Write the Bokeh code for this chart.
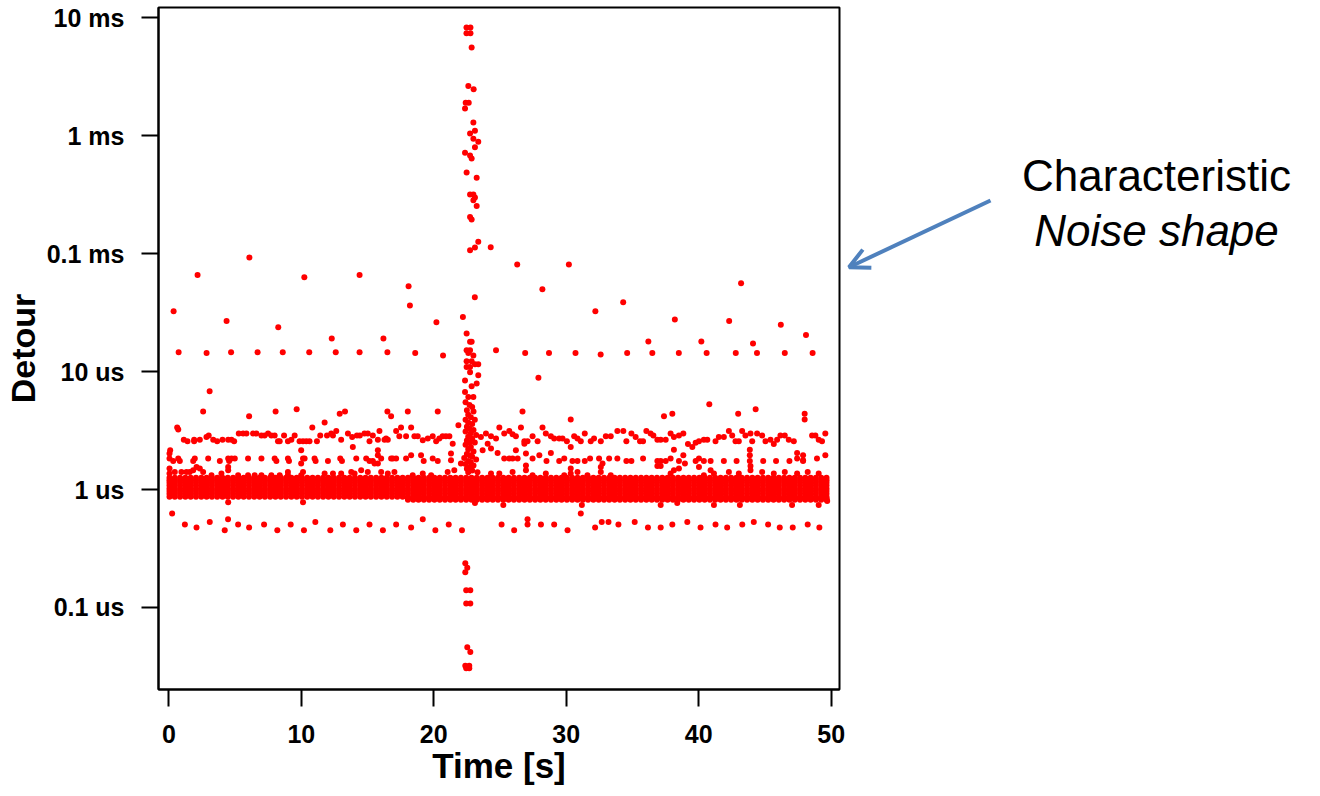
from bokeh.plotting import figure
from bokeh.layouts import row
from bokeh.models import Range1d, FixedTicker, Label, Arrow, OpenHead
from bokeh.embed import file_html
from bokeh.resources import INLINE

RED = "#FF0000"
BLUE = "#4F81BD"
FONT = "Liberation Sans"

# ---------------- data (time in s, detour in microseconds) ----------------
x_ticks = [0, 10, 20, 30, 40, 50]
y_ticks = [0.1, 1, 10, 100, 1000, 10000]
y_tick_labels = ["0.1 us", "1 us", "10 us", "0.1 ms", "1 ms", "10 ms"]

# dense band around 1 us (sampled across the run)
band_t = [0.05, 0.45, 0.85, 1.25, 1.65, 2.05, 2.45, 2.85, 3.25, 3.65,
          4.05, 4.45, 4.85, 5.25, 5.65, 6.05, 6.45, 6.85, 7.25, 7.65,
          8.05, 8.45, 8.85, 9.25, 9.65, 10.05, 10.45, 10.85, 11.25, 11.65,
          12.05, 12.45, 12.85, 13.25, 13.65, 14.05, 14.45, 14.85, 15.25, 15.65,
          16.05, 16.45, 16.85, 17.25, 17.65, 18.05, 18.45, 18.85, 19.25, 19.65,
          20.05, 20.45, 20.85, 21.25, 21.65, 22.05, 22.45, 22.85, 23.25, 23.65,
          24.05, 24.45, 24.85, 25.25, 25.65, 26.05, 26.45, 26.85, 27.25, 27.65,
          28.05, 28.45, 28.85, 29.25, 29.65, 30.05, 30.45, 30.85, 31.25, 31.65,
          32.05, 32.45, 32.85, 33.25, 33.65, 34.05, 34.45, 34.85, 35.25, 35.65,
          36.05, 36.45, 36.85, 37.25, 37.65, 38.05, 38.45, 38.85, 39.25, 39.65,
          40.05, 40.45, 40.85, 41.25, 41.65, 42.05, 42.45, 42.85, 43.25, 43.65,
          44.05, 44.45, 44.85, 45.25, 45.65, 46.05, 46.45, 46.85, 47.25, 47.65,
          48.05, 48.45, 48.85, 49.25, 49.65]
band_levels = [0.87, 0.92, 0.97, 1.02, 1.08, 1.14, 1.2, 1.26]
band_late_levels = [0.82, 0.845]
band_late_start = 18.0

# scattered points just under the band
edge_t = [4.48, 10.13, 23.11, 25.25, 31.18, 37.13, 38.38, 41.15, 43.11, 47.05, 49.06, 49.7]
edge_v = [0.78, 0.78, 0.77, 0.74, 0.74, 0.74, 0.77, 0.74, 0.74, 0.74, 0.74, 0.8]

# row around 0.5 us
r05_t = [0.25, 1.21, 2.09, 3.09, 4.22, 4.47, 5.23, 6.06, 7.19, 8.19,
         9.2, 10.2, 11.06, 12.19, 13.14, 14.15, 15.15, 16.16, 17.16, 18.29,
         19.17, 20.12, 21.13, 22.13, 25.12, 26.07, 27.08, 27.08, 28.09, 29.09,
         30.1, 31.1, 32.18, 32.68, 33.19, 33.94, 35.17, 36.17, 37.13, 38.01,
         39.14, 40.14, 41.27, 42.15, 43.29, 44.16, 45.24, 46.12, 47.1, 48.23,
         49.11]
r05_v = [0.626, 0.505, 0.476, 0.531, 0.452, 0.56, 0.505, 0.476, 0.505, 0.452,
         0.505, 0.452, 0.531, 0.452, 0.505, 0.452, 0.505, 0.452, 0.505, 0.476,
         0.56, 0.452, 0.505, 0.452, 0.505, 0.452, 0.56, 0.505, 0.505, 0.505,
         0.452, 0.626, 0.476, 0.531, 0.531, 0.505, 0.531, 0.476, 0.476, 0.505,
         0.531, 0.476, 0.505, 0.476, 0.505, 0.531, 0.505, 0.476, 0.476, 0.505,
         0.476]

# row around 1.4 us
r14_t = [0.05, 0.05, 0.45, 0.95, 1.33, 1.58, 1.84, 2.09, 2.34, 2.59,
         3.22, 3.97, 4.48, 4.48, 5.23, 5.98, 6.48, 6.99, 7.74, 8.37,
         8.99, 8.99, 10.13, 9.99, 11.76, 12.39, 13.01, 13.77, 14.02, 14.52,
         15.02, 16.03, 16.53, 17.03, 18.41, 19.17, 19.8, 21.05, 21.55, 24.32,
         24.95, 25.95, 26.96, 26.96, 27.46, 28.46, 29.85, 30.34, 30.34, 30.85,
         31.6, 32.61, 32.61, 33.36, 36.88, 37.88, 38.13, 38.51, 40.02, 40.39,
         40.9, 41.15, 42.28, 43.03, 43.91, 44.79, 45.67, 46.5, 47.43, 48.23,
         49.06]
r14_v = [1.51, 1.37, 1.41, 1.41, 1.41, 1.41, 1.46, 1.55, 1.51, 1.41,
         1.32, 1.37, 1.55, 1.46, 1.32, 1.32, 1.32, 1.32, 1.32, 1.32,
         1.41, 1.32, 1.41, 1.32, 1.37, 1.37, 1.37, 1.41, 1.37, 1.46,
         1.41, 1.41, 1.37, 1.41, 1.32, 1.37, 1.32, 1.41, 1.46, 1.37,
         1.37, 1.41, 1.6, 1.46, 1.32, 1.37, 1.32, 1.51, 1.37, 1.41,
         1.32, 1.55, 1.41, 1.32, 1.58, 1.37, 1.46, 1.51, 1.55, 1.32,
         1.46, 1.37, 1.41, 1.37, 1.46, 1.41, 1.37, 1.41, 1.37, 1.41,
         1.37]

# row around 1.8 us
r18_t = [0.1, 0.05, 0.05, 0.33, 0.71, 0.83, 1.84, 1.96, 2.97, 3.85,
         4.48, 4.55, 4.73, 4.98, 5.98, 6.99, 7.99, 8.12, 8.99, 9.07,
         9.99, 10.13, 10.25, 9.99, 11.0, 11.08, 12.01, 12.94, 13.07, 14.15,
         14.9, 15.15, 15.4, 15.78, 15.78, 15.53, 16.03, 15.78, 16.78,
         16.91, 17.16, 17.91, 18.29, 19.04, 19.24, 19.92, 20.3, 21.3, 21.3,
         22.05, 23.69, 24.07, 24.32, 24.82, 25.32, 25.7, 25.95, 26.2, 26.33,
         26.84, 26.96, 27.46, 27.97, 28.51, 28.84, 29.47, 29.85, 30.47, 30.85,
         31.4, 31.8, 32.48, 32.74, 33.24, 33.86,
         34.54, 34.92, 35.8, 36.88, 37.13, 37.13, 37.51, 37.88, 38.13, 38.51,
         38.84, 38.96, 39.77, 40.02, 40.39, 40.9, 41.9, 42.86, 43.86, 43.86,
         43.86, 43.91, 44.87, 45.84, 46.85, 47.43, 47.88, 48.93, 49.56]
r18_v = [2.15, 2.02, 1.83, 1.75, 1.83, 1.75, 1.75, 1.83, 1.83, 1.75,
         1.83, 1.75, 1.83, 1.83, 1.83, 1.83, 1.83, 1.75, 1.83, 1.75,
         2.15, 1.83, 1.83, 1.66, 1.83, 1.75, 1.75, 1.83, 1.75, 1.83,
         1.83, 1.75, 1.75, 2.15, 1.95, 1.66, 1.83, 1.66, 1.83,
         1.83, 1.83, 1.83, 1.95, 1.95, 1.75, 1.83, 1.75, 2.02, 1.77,
         1.66, 2.15, 2.45, 2.23, 2.04, 1.83, 1.83, 1.83, 2.15, 1.83,
         2.45, 2.02, 1.83, 1.95, 1.75, 2.04, 1.75, 1.83, 1.75, 1.75,
         1.75, 1.83, 1.83, 1.66, 1.83, 1.83,
         1.75, 1.75, 1.83, 1.75, 1.75, 1.58, 1.75, 1.83, 2.18, 1.75,
         1.95, 1.66, 1.75, 1.83, 1.75, 1.75, 1.75, 1.75, 1.75, 1.95,
         2.18, 1.58, 1.75, 1.75, 1.75, 1.83, 1.75, 1.83, 1.95]

# row around 2.5-3.5 us
r3_t = [0.63, 0.71, 1.13, 1.41, 1.91, 1.91, 2.34, 2.84, 3.01, 3.35,
        3.65, 4.05, 4.48, 4.73, 4.93, 5.28, 5.61, 5.86, 6.36, 6.61,
        6.99, 7.23, 7.49, 7.74, 7.99, 8.24, 8.37, 8.7, 8.99, 9.25,
        9.5, 9.87, 10.13, 10.38, 10.62, 10.83, 11.18, 11.43, 11.76, 11.94,
        12.26, 12.39, 12.64, 13.01, 13.52, 13.84, 13.89, 14.2, 14.42, 14.77,
        15.02, 15.15, 15.4, 15.9, 15.78, 16.28, 16.53,
        16.4, 17.16, 17.53, 17.4, 17.91, 18.29, 18.54, 18.79, 19.17, 19.55,
        19.92, 20.18, 20.42, 20.67, 20.92, 21.18, 21.43, 23.56, 23.94, 24.32,
        24.7, 24.95, 25.32, 25.7, 25.95, 26.2, 26.58, 26.84, 27.08, 27.46,
        27.84, 28.21, 28.46, 28.84, 29.09, 29.47, 29.72, 30.05, 30.34, 30.6,
        30.85, 31.1, 31.4, 31.85, 32.1, 32.61, 32.99, 33.36, 33.86,
        34.31, 34.54, 34.92, 35.24, 35.57, 35.8, 36.05, 36.37, 36.58, 36.88,
        37.13, 37.51, 37.88, 38.13, 38.51, 38.84, 39.19, 39.52, 39.77, 40.02,
        40.39, 40.65, 41.27, 41.52, 41.9, 42.28, 42.53, 42.78, 43.03, 43.28,
        43.53, 43.91, 44.04, 44.41, 44.79, 45.04, 45.42, 45.67, 45.92, 46.17,
        46.5, 46.8, 47.18, 47.43, 47.88, 47.88, 48.56, 48.81, 49.06, 49.31,
        49.56]
r3_v = [3.36, 3.23, 2.65, 2.57, 2.57, 2.65, 2.65, 2.79, 2.87, 2.65,
        2.57, 2.65, 2.65, 2.65, 2.57, 2.98, 2.98, 2.98, 2.98, 2.98,
        2.87, 2.87, 2.98, 2.87, 2.87, 2.57, 2.57, 2.87, 2.57, 2.65,
        2.87, 2.57, 2.57, 2.57, 2.57, 3.36, 2.57, 2.87, 3.7, 2.87,
        2.98, 2.87, 3.14, 2.65, 2.98, 2.79, 2.3, 2.87, 2.87, 2.98,
        2.98, 2.57, 2.87, 3.14, 2.65, 2.65, 2.65,
        2.71, 3.14, 3.36, 2.83, 2.83, 3.36, 2.83, 2.83, 2.62, 2.71,
        2.83, 2.57, 2.71, 2.83, 2.83, 2.83, 2.45, 2.79, 2.98, 2.83,
        2.71, 3.36, 2.98, 3.14, 2.94, 2.83, 3.36, 2.57, 2.57, 2.83,
        2.57, 3.36, 2.98, 2.83, 2.71, 2.71, 2.71, 2.57, 2.3, 2.83,
        2.71, 2.57, 2.98, 2.57, 2.71, 2.57, 2.83, 2.83, 3.14,
        3.14, 2.57, 2.98, 2.79, 2.57, 2.57, 3.14, 2.98, 2.87, 2.65,
        2.65, 2.65, 2.98, 2.79, 2.87, 2.98, 2.43, 2.3, 2.49, 2.57,
        2.65, 2.65, 2.57, 2.79, 2.79, 3.14, 2.87, 2.57, 2.57, 3.14,
        2.87, 2.98, 2.57, 2.98, 2.87, 2.57, 2.65, 2.43, 2.65, 2.87,
        2.87, 2.65, 2.57, 2.04, 1.95, 1.77, 2.87, 2.87, 2.65, 2.57,
        2.98]

# sparse points above 3.5 us
up_t = [0.36, 0.74, 2.17, 2.85, 3.08, 2.59, 4.36, 4.7, 6.08, 6.7,
        6.06, 8.26, 8.6, 10.23, 10.6, 9.65, 8.06, 12.3, 12.6, 12.9,
        13.3, 14.4, 14.4, 16.2, 16.5, 16.5, 16.78, 18.04, 18.1, 18.2,
        18.6, 20.2, 20.3, 20.7, 21.86, 24.3, 24.7, 26.3, 26.7, 26.9,
        27.9, 28.2, 28.7, 30.2, 30.34, 30.7, 32.2, 32.6, 34.3, 34.6,
        36.2, 36.5, 37.38, 38.01, 38.2, 38.5, 40.2, 40.6, 40.8, 42.3,
        42.8, 42.98, 43.2, 44.1, 44.4, 44.3, 46.2, 46.5, 48.1, 48.6,
        48.0, 48.0]
up_v = [32.5, 14.6, 65.9, 14.4, 6.8, 4.6, 26.8, 14.6, 93, 14.6,
        4.19, 23.8, 14.6, 63, 14.6, 4.8, 4.6, 19.1, 14.6, 4.4,
        4.6, 66, 14.6, 19.1, 14.6, 4.6, 4.19, 4.6, 53, 36.3,
        14.4, 26.2, 4.6, 13.7, 3.51, 113.5, 15.2, 81, 4.6, 14.4,
        8.85, 50, 14.4, 81, 3.92, 14.4, 32.5, 14, 38.7, 14.4,
        18, 14.4, 4.18, 4.4, 27.7, 14.4, 18, 14.4, 5.3, 26.8,
        14.4, 4.4, 56, 17.3, 14.4, 4.8, 25, 14.4, 20.4, 14.4,
        4.4, 3.92]

# the big detour spike near 22.7 s
spike_t = [22.47, 22.77, 22.47, 22.77, 22.86, 22.61, 23.01, 22.41, 22.64, 22.36,
           22.99, 23.11, 22.74, 22.99, 23.36, 23.11, 22.36, 22.74, 22.86, 22.48,
           23.24, 22.74, 22.99, 23.11, 22.99, 23.24, 22.74, 22.86, 23.36, 23.11,
           22.74, 23.1, 22.2, 22.48, 22.74, 22.86, 22.48, 22.74, 22.61, 22.99,
           22.48, 22.86, 23.11, 23.36, 22.48, 22.74, 22.74, 23.36, 22.36, 23.24,
           22.86, 22.36, 22.61, 22.99]
spike_v = [8290, 8290, 7380, 7380, 5610, 2636, 2484, 1901, 1901, 1706,
           1298, 1101, 1047, 942, 888, 800, 716, 681, 642, 488,
           440, 318, 318, 300, 284, 254, 205, 195, 126, 113,
           107, 42.8, 29.1, 21, 17.9, 17.9, 15.2, 15.2, 14.4, 13.7,
           12.25, 12.25, 11.56, 11.56, 10.96, 10.96, 9.88, 9.31, 8.4, 7.93,
           7.52, 6.73, 6.1, 6.1]
cluster_t = [22.4, 22.7, 22.9, 22.5, 23.0, 22.6, 22.8, 22.4, 23.1, 22.6,
             22.9, 22.5, 22.7, 23.0, 22.4, 22.8, 23.2, 22.6, 22.9, 22.5,
             22.7, 23.1, 22.4, 22.8, 22.6, 23.0, 22.5, 22.7, 22.9, 22.3,
             23.2, 22.6, 22.8, 22.4, 23.0, 22.7, 22.5, 22.9, 22.6, 23.3]
cluster_v = [5.5, 5.2, 5.0, 4.7, 4.6, 4.3, 4.1, 3.9, 3.9, 3.7,
             3.6, 3.4, 3.3, 3.2, 3.1, 3.0, 2.9, 2.8, 2.7, 2.6,
             2.5, 2.5, 2.4, 2.3, 2.2, 2.1, 2.0, 1.95, 1.9, 1.85,
             1.8, 1.75, 1.7, 1.65, 1.6, 1.55, 1.5, 1.45, 1.4, 1.4]
low_t = [22.38, 22.53, 22.38, 22.45, 22.76, 22.45, 22.76, 22.53, 22.76, 22.38,
         22.68, 22.45, 22.68]
low_v = [0.237, 0.217, 0.199, 0.14, 0.14, 0.108, 0.108, 0.046, 0.042, 0.032,
         0.032, 0.0306, 0.0306]

# annotation texts
note_line1 = "Characteristic"
note_line2 = "Noise shape"

# ---------------- assemble ----------------
xs, ys = [], []
for lv in band_levels:
    for t in band_t:
        xs.append(t); ys.append(lv)
for lv in band_late_levels:
    for t in band_t:
        if t >= band_late_start:
            xs.append(t); ys.append(lv)
for tl, vl in [(edge_t, edge_v), (r05_t, r05_v), (r14_t, r14_v), (r18_t, r18_v),
               (r3_t, r3_v), (up_t, up_v), (spike_t, spike_v),
               (cluster_t, cluster_v), (low_t, low_v)]:
    for t, v in zip(tl, vl):
        xs.append(t); ys.append(v)

p = figure(width=846, height=796,
           x_range=Range1d(-0.78, 50.63), y_range=Range1d(0.02016, 12230),
           y_axis_type="log", output_backend="svg", toolbar_location=None,
           min_border_left=157, min_border_right=7,
           min_border_top=7, min_border_bottom=107)
p.background_fill_color = "white"
p.border_fill_color = "white"
p.outline_line_color = "black"
p.outline_line_width = 2
p.grid.visible = False

p.scatter(xs, ys, size=6, fill_color=RED, line_color=None)

p.xaxis.ticker = FixedTicker(ticks=x_ticks)
p.yaxis.ticker = FixedTicker(ticks=y_ticks)
p.yaxis.major_label_overrides = {k: lab for k, lab in zip(y_ticks, y_tick_labels)}

for ax in (p.xaxis[0], p.yaxis[0]):
    ax.axis_line_color = "black"
    ax.axis_line_width = 2
    ax.major_tick_line_color = "black"
    ax.major_tick_line_width = 2
    ax.major_tick_out = 17
    ax.major_tick_in = 0
    ax.minor_tick_line_color = None
    ax.major_label_text_font = FONT
    ax.major_label_text_font_size = "25px"
    ax.major_label_text_font_style = "bold"
    ax.major_label_text_color = "black"
    ax.axis_label_text_font = FONT
    ax.axis_label_text_font_style = "bold"
    ax.axis_label_text_color = "black"

p.xaxis.axis_label = "Time [s]"
p.xaxis.axis_label_text_font_size = "35px"
p.xaxis.major_label_standoff = 18
p.xaxis.axis_label_standoff = 0
p.yaxis.axis_label = "Detour"
p.yaxis.axis_label_text_font_size = "34px"
p.yaxis.major_label_standoff = 17
p.yaxis.axis_label_standoff = 2

# side panel for the annotation: its frame is aligned with the plot frame
# (screen rows 7..689), so the y range maps directly to window pixels
q = figure(width=474, height=796, x_range=Range1d(846, 1320), y_range=Range1d(689, 7),
           output_backend="svg", toolbar_location=None,
           x_axis_location=None, y_axis_location=None,
           min_border_left=0, min_border_right=0, min_border_top=7, min_border_bottom=107)
q.background_fill_color = "white"
q.border_fill_color = "white"
q.outline_line_color = None
q.grid.visible = False

q.add_layout(Label(x=1156, y=175, text=note_line1, text_font=FONT,
                   text_font_size="44px", text_align="center",
                   text_baseline="alphabetic", text_color="black"))
q.add_layout(Label(x=1156, y=230, text=note_line2, text_font=FONT,
                   text_font_size="44px", text_font_style="italic",
                   text_align="center", text_baseline="alphabetic",
                   text_color="black"))
q.add_layout(Arrow(end=OpenHead(size=20, line_color=BLUE, line_width=4),
                   x_start=990, y_start=200, x_end=848.5, y_end=266.7,
                   line_color=BLUE, line_width=4))

layout = row(p, q)
open("out.html", "w").write(file_html(layout, INLINE))
